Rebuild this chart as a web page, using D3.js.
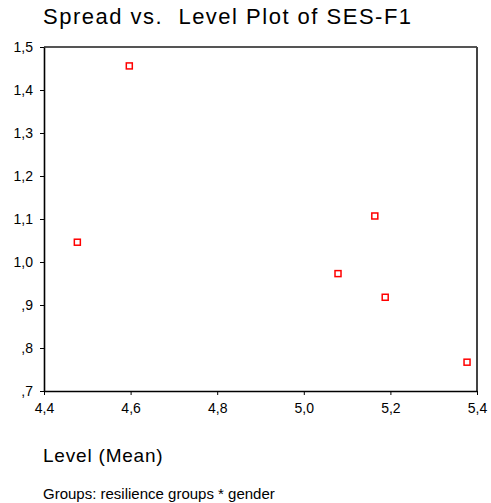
<!DOCTYPE html>
<html>
<head>
<meta charset="utf-8">
<script src="https://cdn.jsdelivr.net/npm/d3@7"></script>
<style>
  body { margin: 0; background: #fff; }
  text { font-family: "Liberation Sans", Arial, sans-serif; fill: #000; }
</style>
</head>
<body>
<script>
// Spread vs. level: one point per group (mean vs. spread)
var levels  = [4.477, 4.597, 5.164, 5.079, 5.188, 5.377];
var spreads = [1.046, 1.456, 1.107, 0.973, 0.918, 0.767];
var xTicks = [4.4, 4.6, 4.8, 5.0, 5.2, 5.4];
var yTicks = [0.7, 0.8, 0.9, 1.0, 1.1, 1.2, 1.3, 1.4, 1.5];

var margin = {top: 47, right: 14, bottom: 112, left: 44};
var width = 491 - margin.left - margin.right,
    height = 503 - margin.top - margin.bottom;

var svg = d3.select("body").append("svg")
    .attr("width", 491)
    .attr("height", 503);

var g = svg.append("g")
    .attr("transform", "translate(" + margin.left + "," + margin.top + ")");

var x = d3.scaleLinear().domain([4.4, 5.4]).range([0, width]);
var y = d3.scaleLinear().domain([0.7, 1.5]).range([height, 0]);

// SPSS style numbers: comma decimal, no leading zero
function fmt(v) {
  return d3.format(".1f")(v).replace(".", ",").replace(/^0/, "");
}

// top and right frame lines (grey)
g.append("line").attr("x1", 0).attr("x2", width).attr("y1", 0).attr("y2", 0)
  .attr("stroke", "#555").attr("stroke-width", 2);
g.append("line").attr("x1", width).attr("x2", width).attr("y1", 0).attr("y2", height)
  .attr("stroke", "#444").attr("stroke-width", 2);

var xg = g.append("g")
  .attr("transform", "translate(0," + height + ")")
  .call(d3.axisBottom(x).tickValues(xTicks).tickFormat(fmt).tickSizeInner(4).tickSizeOuter(0).tickPadding(8));
var yg = g.append("g")
  .call(d3.axisLeft(y).tickValues(yTicks).tickFormat(fmt).tickSizeInner(4).tickSizeOuter(0).tickPadding(7));

[xg, yg].forEach(function(a) {
  a.select(".domain").attr("stroke", "#000").attr("stroke-width", 1.6);
  a.selectAll(".tick line").attr("stroke", "#000");
  a.selectAll("text").attr("font-size", 14).attr("font-family", null).attr("fill", "#000");
});

// markers
g.append("g").selectAll("rect")
  .data(levels).enter()
  .append("rect")
  .attr("x", (d, i) => x(d) - 3)
  .attr("y", (d, i) => y(spreads[i]) - 3)
  .attr("width", 6)
  .attr("height", 6)
  .attr("fill", "#fff")
  .attr("stroke", "#f00")
  .attr("stroke-width", 1.5);

svg.append("text")
  .attr("x", 43).attr("y", 24)
  .attr("font-size", 22)
  .attr("letter-spacing", "1.5px")
  .style("white-space", "pre")
  .text("Spread vs.  Level Plot of SES-F1");

svg.append("text")
  .attr("x", 43).attr("y", 462)
  .attr("font-size", 19)
  .attr("letter-spacing", "0.8px")
  .text("Level (Mean)");

svg.append("text")
  .attr("x", 43).attr("y", 499)
  .attr("font-size", 15)
  .text("Groups: resilience groups * gender");
</script>
</body>
</html>
